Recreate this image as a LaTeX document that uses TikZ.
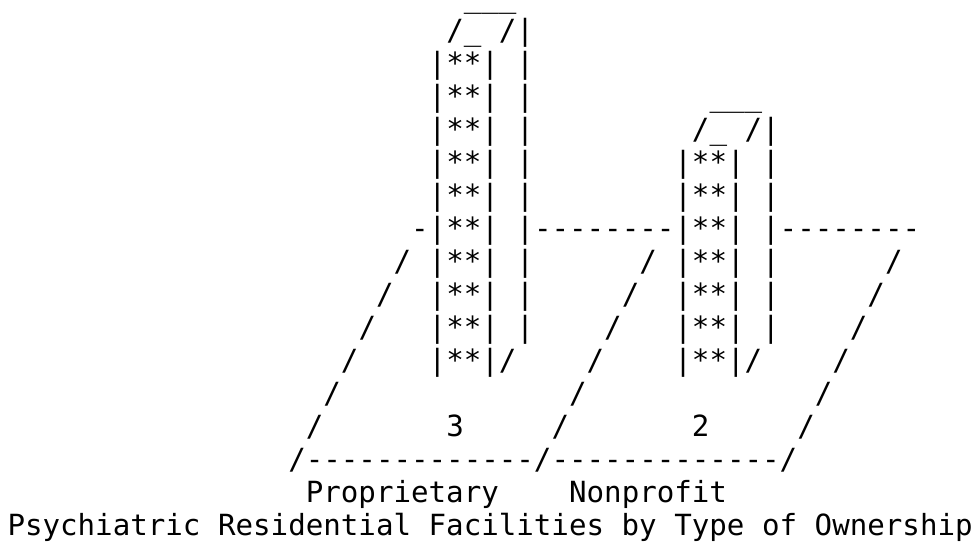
\documentclass[tikz,border=0pt]{standalone}
\usepackage{fontspec}
\setmonofont{DejaVu Sans Mono}
\usepackage{tikz}
\usetikzlibrary{positioning}
\tikzset{
        % one cell of the text grid
        cell/.style={inner sep=0pt, outer sep=0pt, anchor=base west,
                font=\ttfamily\fontsize{29.15pt}{33pt}\selectfont},
        % bars
        bar/.style={cell},
        % floor edges
        floor/.style={cell},
        % labels under the floor
        label_text/.style={cell}
}
\begin{document}
\begin{tikzpicture}[x=17.55pt, y=-33pt]
    \useasboundingbox (0pt,0pt) rectangle (979pt,-546pt);
    \begin{scope}[shift={(7.5pt,-7.6pt)}]
        % Proprietary bar
        \node[bar] (propTop) at (26,0) {\smash{\_\_\_}};
        \node[bar] (propLid) at (25,1) {/\_ /|};
        \foreach \r in {2,...,10}
            \node[bar] (prop\r) at (24,\r) {|**| |};
        \node[bar] (propFoot) at (24,11) {|**|/};
        % Nonprofit bar
        \node[bar] (nonTop) at (40,3) {\_\_\_};
        \node[bar] (nonLid) at (39,4) {/\_ /|};
        \foreach \r in {5,...,10}
            \node[bar] (non\r) at (38,\r) {|**| |};
        \node[bar] (nonFoot) at (38,11) {|**|/};
        % back edge of the floor
        \node[floor] (backL) at (23,7) {-};
        \node[floor] (backM) at (30,7) {--------};
        \node[floor] (backR) at (44,7) {--------};
        % side edges of the floor
        \foreach \r in {8,...,13} {
            \node[floor] (edgeL\r) at ({30-\r},\r) {/};
            \node[floor] (edgeM\r) at ({44-\r},\r) {/};
            \node[floor] (edgeR\r) at ({58-\r},\r) {/};
        }
        \node[floor] (front) at (16,14) {/-------------/-------------/};
        % values
        \node[label_text] (propVal) at (25,13) {3};
        \node[label_text] (nonVal) at (39,13) {2};
        % categories and title
        \node[label_text] (propLab) at (17,15) {Proprietary};
        \node[label_text] (nonLab) at (32,15) {Nonprofit};
        \node[label_text] (title) at (0,16) {Psychiatric Residential Facilities by Type of Ownership};
    \end{scope}
\end{tikzpicture}
\end{document}
